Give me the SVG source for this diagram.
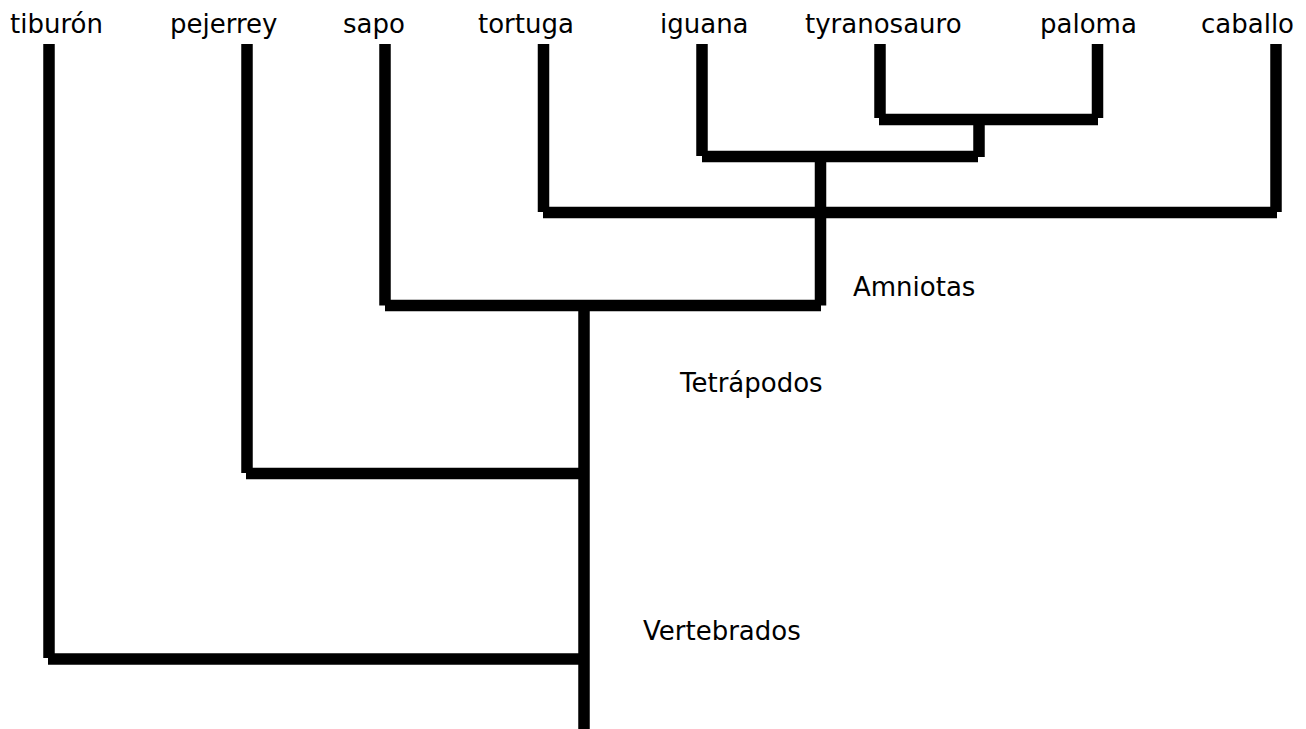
<svg xmlns="http://www.w3.org/2000/svg" width="1306" height="729" viewBox="0 0 1306 729">
<style>
  .lbl { font-family: "DejaVu Sans", "Liberation Sans", sans-serif; font-size: 26px; fill: #000; }
  .br { stroke: #000; stroke-width: 11.5; stroke-linecap: butt; fill: none; }
</style>
<rect width="1306" height="729" fill="#fff"/>
<g id="connectors">
  <line class="br" x1="49" y1="44" x2="49" y2="658"/>
  <line class="br" x1="48" y1="659" x2="585" y2="659"/>
  <line class="br" x1="247" y1="44" x2="247" y2="473"/>
  <line class="br" x1="246" y1="473.5" x2="585" y2="473.5"/>
  <line class="br" x1="385" y1="44" x2="385" y2="305.5"/>
  <line class="br" x1="385" y1="305.5" x2="821" y2="305.5"/>
  <line class="br" x1="820.5" y1="156" x2="820.5" y2="305.5"/>
  <line class="br" x1="584" y1="305" x2="584" y2="729"/>
  <line class="br" x1="543.5" y1="44" x2="543.5" y2="212"/>
  <line class="br" x1="543" y1="212.5" x2="1277" y2="212.5"/>
  <line class="br" x1="1276" y1="44" x2="1276" y2="212"/>
  <line class="br" x1="702" y1="44" x2="702" y2="156"/>
  <line class="br" x1="702" y1="156.5" x2="978" y2="156.5"/>
  <line class="br" x1="979" y1="119" x2="979" y2="157"/>
  <line class="br" x1="880" y1="44" x2="880" y2="118"/>
  <line class="br" x1="1097.5" y1="44" x2="1097.5" y2="118"/>
  <line class="br" x1="879" y1="119.5" x2="1098" y2="119.5"/>
</g>
<g id="n-tiburon"><text class="lbl" x="10" y="33">tiburón</text></g>
<g id="n-pejerrey"><text class="lbl" x="170" y="33">pejerrey</text></g>
<g id="n-sapo"><text class="lbl" x="343" y="33">sapo</text></g>
<g id="n-tortuga"><text class="lbl" x="478" y="33">tortuga</text></g>
<g id="n-iguana"><text class="lbl" x="660" y="33">iguana</text></g>
<g id="n-tyranosauro"><text class="lbl" x="805" y="33">tyranosauro</text></g>
<g id="n-paloma"><text class="lbl" x="1040" y="33">paloma</text></g>
<g id="n-caballo"><text class="lbl" x="1201" y="33">caballo</text></g>
<g id="n-amniotas"><text class="lbl" x="853" y="296">Amniotas</text></g>
<g id="n-tetrapodos"><text class="lbl" x="680" y="392">Tetrápodos</text></g>
<g id="n-vertebrados"><text class="lbl" x="643" y="640">Vertebrados</text></g>
</svg>
